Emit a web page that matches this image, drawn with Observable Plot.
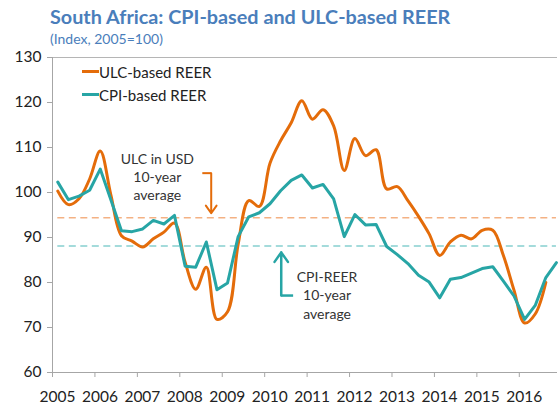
<!DOCTYPE html>
<html><head><meta charset="utf-8">
<script src="https://cdn.jsdelivr.net/npm/d3@7"></script>
<script src="https://cdn.jsdelivr.net/npm/@observablehq/plot@0.6"></script>
<style>
body{margin:0;background:#fff;}
#wrap{position:relative;width:558px;height:407px;font-family:Lato,"Open Sans",sans-serif;overflow:hidden;}
#wrap svg{position:absolute;left:0;top:0;}
#title{position:absolute;left:50px;top:4px;font-size:19.8px;font-weight:bold;color:#4A7EBB;white-space:nowrap;line-height:24px;}
#subtitle{position:absolute;left:50px;top:31px;font-size:14px;color:#4A7EBB;white-space:nowrap;line-height:16px;}
.lg{position:absolute;left:99px;font-size:15px;color:#222;line-height:18px;white-space:nowrap;}
.sw{position:absolute;left:82px;width:17px;height:3px;}
</style></head>
<body>
<div id="wrap">
  <div id="chart"></div>
  <div id="title"></div>
  <div id="subtitle"></div>
  <div class="sw" id="sw1" style="top:70px;background:#E46C0A"></div>
  <div class="lg" id="lg1" style="top:62.5px"></div>
  <div class="sw" id="sw2" style="top:93px;background:#27A5A5"></div>
  <div class="lg" id="lg2" style="top:85.5px"></div>
</div>
<script>
const titleText = "South Africa: CPI-based and ULC-based REER";
const subtitleText = "(Index, 2005=100)";
const seriesNames = ["ULC-based REER", "CPI-based REER"];
const quarters = [
  "2005Q1","2005Q2","2005Q3","2005Q4","2006Q1","2006Q2","2006Q3","2006Q4",
  "2007Q1","2007Q2","2007Q3","2007Q4","2008Q1","2008Q2","2008Q3","2008Q4",
  "2009Q1","2009Q2","2009Q3","2009Q4","2010Q1","2010Q2","2010Q3","2010Q4",
  "2011Q1","2011Q2","2011Q3","2011Q4","2012Q1","2012Q2","2012Q3","2012Q4",
  "2013Q1","2013Q2","2013Q3","2013Q4","2014Q1","2014Q2","2014Q3","2014Q4",
  "2015Q1","2015Q2","2015Q3","2015Q4","2016Q1","2016Q2","2016Q3","2016Q4"];
const cpiReer = [102.3,98.4,99.2,100.5,105.2,98.4,91.5,91.3,
  91.9,93.8,93.0,94.9,83.6,83.4,89.0,78.4,
  79.9,90.2,94.6,95.5,97.5,100.4,102.7,103.9,
  101.0,101.8,98.6,90.2,95.1,92.8,92.9,88.0,
  86.2,84.2,81.6,80.1,76.6,80.7,81.1,82.1,
  83.1,83.5,80.3,77.0,71.8,74.9,81.1,84.4];
const ulcReer = [100.3,97.3,98.6,103.0,109.2,99.5,90.4,89.2,
  87.9,89.7,91.2,93.2,84.5,78.5,83.4,71.8,
  73.5,88.5,98.2,96.9,106.5,111.5,115.5,120.4,
  116.3,118.4,114.8,104.9,112.0,108.2,109.5,100.8,
  101.3,98.2,94.7,90.8,86.0,89.0,90.5,89.7,
  91.6,91.6,86.0,78.3,71.0,73.0,80.0];
const ulcAverage = 94.4;
const cpiAverage = 88.1;
const yearTicks = [2005,2006,2007,2008,2009,2010,2011,2012,2013,2014,2015,2016];
const valueTicks = [60,70,80,90,100,110,120,130];
const notes = [
  {x: 2007.47, y: 103.6, text: "ULC in USD\n10-year\naverage"},
  {x: 2011.47, y: 77.3, text: "CPI-REER\n10-year\naverage"}];
const ulcArrowPath = [[2008.53,104.3],[2008.74,104.3],[2008.74,95.4]];
const cpiArrowPath = [[2010.67,77.1],[2010.39,77.1],[2010.39,86.7]];

const ORANGE = "#E46C0A", TEAL = "#27A5A5";
document.getElementById("title").textContent = titleText;
document.getElementById("subtitle").textContent = subtitleText;
document.getElementById("lg1").textContent = seriesNames[0];
document.getElementById("lg2").textContent = seriesNames[1];

const toYear = q => +q.slice(0,4) + (+q.slice(5) - 1) / 4 + 0.125;
const cpiData = cpiReer.map((v,i) => ({x: toYear(quarters[i]), y: v}));
const ulcData = ulcReer.map((v,i) => ({x: toYear(quarters[i]), y: v}));
const x0 = toYear(quarters[0]), x1 = toYear(quarters[quarters.length-1]);
const seg = p => [{x1: p[0][0], y1: p[0][1], x2: p[1][0], y2: p[1][1]}];
const tail = p => [{x1: p[1][0], y1: p[1][1], x2: p[2][0], y2: p[2][1]}];

const chart = Plot.plot({
  width: 558, height: 407,
  marginTop: 57, marginBottom: 35, marginLeft: 52, marginRight: 1,
  x: {domain: [2005, 2016.9]},
  y: {domain: [60, 130]},
  style: {fontFamily: "Lato, 'Open Sans', sans-serif", fontSize: "15.5px", color: "#222", background: "transparent"},
  marks: [
    Plot.ruleY([130], {stroke: "#b5b5b5", strokeWidth: 1}),
    Plot.ruleY([60], {stroke: "#a6a6a6", strokeWidth: 1}),
    Plot.ruleX([2005], {stroke: "#a6a6a6", strokeWidth: 1}),
    Plot.axisY({ticks: valueTicks, tickSize: 5, tickPadding: 6, stroke: "#a6a6a6", fill: "#222", label: null, tickFormat: d => String(d)}),
    Plot.axisX({ticks: yearTicks, tickSize: 5, stroke: "#a6a6a6", label: null, tickFormat: () => ""}),
    Plot.axisX({ticks: yearTicks, tickSize: 0, tickPadding: 18, dx: 5, fill: "#222", label: null, tickFormat: d => String(d)}),
    Plot.ruleY([ulcAverage], {x1: x0, x2: x1, stroke: "#F4B183", strokeWidth: 1.6, strokeDasharray: "7,4.5"}),
    Plot.ruleY([cpiAverage], {x1: x0, x2: x1, stroke: "#86CFCF", strokeWidth: 1.6, strokeDasharray: "7,4.5"}),
    Plot.line(ulcData, {x: "x", y: "y", stroke: ORANGE, strokeWidth: 3, curve: "catmull-rom"}),
    Plot.line(cpiData, {x: "x", y: "y", stroke: TEAL, strokeWidth: 3}),
    Plot.text(notes, {x: "x", y: "y", text: "text", fill: "#333", fontSize: 14, lineHeight: 1.3, textAnchor: "middle", lineAnchor: "middle"}),
    Plot.link(seg(ulcArrowPath), {x1: "x1", y1: "y1", x2: "x2", y2: "y2", stroke: ORANGE, strokeWidth: 2}),
    Plot.arrow(tail(ulcArrowPath), {x1: "x1", y1: "y1", x2: "x2", y2: "y2", stroke: ORANGE, strokeWidth: 2, headLength: 7, headAngle: 70}),
    Plot.link(seg(cpiArrowPath), {x1: "x1", y1: "y1", x2: "x2", y2: "y2", stroke: TEAL, strokeWidth: 2.5}),
    Plot.arrow(tail(cpiArrowPath), {x1: "x1", y1: "y1", x2: "x2", y2: "y2", stroke: TEAL, strokeWidth: 2.5, headLength: 7, headAngle: 70})
  ]
});
document.getElementById("chart").appendChild(chart);
</script>
</body></html>
